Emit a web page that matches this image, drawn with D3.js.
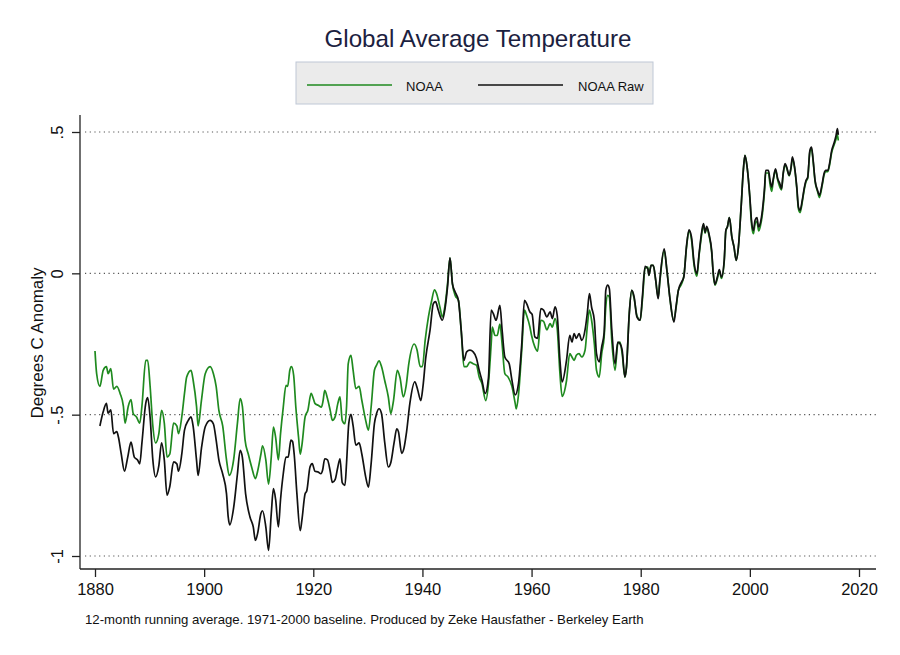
<!DOCTYPE html>
<html>
<head>
<meta charset="utf-8">
<script src="https://cdn.jsdelivr.net/npm/d3@7"></script>
<style>
  html, body { margin: 0; padding: 0; background: #fff; }
  svg { display: block; font-family: "Liberation Sans", Arial, Helvetica, sans-serif; }
</style>
</head>
<body>
<svg id="chart" width="900" height="655"></svg>
<script>
// ---------------- DATA ----------------
const title = "Global Average Temperature";
const yLabel = "Degrees C Anomaly";
const caption = "12-month running average. 1971-2000 baseline. Produced by Zeke Hausfather - Berkeley Earth";
const seriesNames = ["NOAA", "NOAA Raw"];
const xTicks = [1880, 1900, 1920, 1940, 1960, 1980, 2000, 2020];
const yTicks = [-1, -0.5, 0, 0.5];
const yTickLabels = ["-1", "-.5", "0", ".5"];

const noaaYears = [
  1880.0,1880.3,1880.9,1881.5,1882.1,1882.4,1882.9,1883.4,1884.0,1884.6,1885.2,1885.5,1886.1,1886.6,1887.0,1887.6,1888.2,1888.6,1889.3,1889.65,
  1890.1,1890.6,1891.1,1891.7,1892.2,1892.7,1893.2,1893.7,1894.4,1895.0,1895.3,1895.9,1896.4,1896.8,1897.6,1898.0,1898.6,1898.9,1899.5,
  1900.2,1901.1,1901.7,1902.2,1902.7,1903.4,1904.1,1904.6,1905.4,1906.1,1906.6,1907.0,1907.5,1908.1,1908.7,1909.4,1909.8,
  1910.4,1910.7,1911.3,1911.8,1912.3,1912.7,1913.1,1913.6,1914.0,1914.5,1915.0,1915.3,1915.7,1916.0,1916.4,1916.8,1917.3,1917.6,1917.9,1918.5,1919.0,1919.6,
  1920.0,1920.3,1920.9,1921.5,1921.8,1922.1,1922.6,1923.1,1923.5,1924.0,1924.5,1924.9,1925.3,1925.8,1926.1,1926.4,1926.9,1927.3,1927.8,1928.4,1928.9,1929.6,
  1930.1,1930.6,1931.2,1931.6,1932.05,1932.5,1933.1,1933.75,1934.2,1934.7,1935.4,1935.9,1936.5,1937.0,1937.5,1938.5,1939.0,1939.6,
  1940.0,1940.5,1941.1,1941.7,1942.2,1942.6,1943.2,1943.65,1944.1,1944.6,1945.05,1945.5,1946.0,1946.6,1947.1,1947.6,1948.1,1948.7,1949.3,1949.9,
  1950.4,1950.9,1951.6,1952.1,1952.6,1952.8,1953.3,1953.7,1954.2,1954.6,1955.1,1955.7,1956.4,1957.0,1957.2,1957.6,1958.2,1958.7,1959.1,1959.7,
  1960.0,1960.6,1961.1,1961.7,1962.2,1962.8,1963.4,1963.8,1964.3,1964.7,1965.2,1965.6,1966.4,1967.0,1967.4,1967.8,1968.2,1968.7,1969.2,1969.8,
  1970.2,1970.6,1971.0,1971.5,1971.9,1972.4,1972.85,1973.3,1973.6,1973.95,1974.25,1974.7,1975.3,1975.8,1976.2,1976.6,1977.1,1977.4,1977.9,1978.35,1978.8,1979.3,1979.9,
  1980.3,1980.8,1981.3,1981.5,1981.9,1982.3,1982.75,1983.2,1983.5,1984.3,1984.8,1985.4,1986.0,1986.5,1986.9,1987.5,1987.9,1988.4,1988.85,
  1989.3,1989.8,1990.3,1990.7,1991.05,1991.5,1991.8,1992.1,1992.5,1993.0,1993.3,1993.6,1994.05,1994.4,1994.8,1995.3,1995.6,1995.9,1996.25,1996.7,1997.1,1997.5,1997.9,
  1998.4,1998.8,1999.1,1999.5,2000.0,2000.3,2000.65,2000.95,2001.3,2001.6,2001.9,2002.3,2002.7,2002.9,2003.4,2003.7,2004.0,2004.3,2004.7,2005.1,2005.5,2005.8,
  2006.1,2006.45,2006.75,2007.2,2007.55,2007.8,2008.2,2008.6,2008.9,2009.2,2009.6,2010.0,2010.3,2010.6,2011.0,2011.3,2011.6,2011.95,2012.4,2012.75,
  2013.2,2013.6,2013.9,2014.3,2014.6,2015.0,2015.4,2015.8,2016.05,2016.2
];
const noaaValues = [
  -0.275,-0.355,-0.40,-0.343,-0.33,-0.355,-0.337,-0.41,-0.40,-0.425,-0.47,-0.53,-0.47,-0.447,-0.496,-0.508,-0.53,-0.47,-0.308,-0.308,
  -0.40,-0.54,-0.60,-0.567,-0.485,-0.53,-0.65,-0.64,-0.53,-0.54,-0.567,-0.508,-0.425,-0.367,-0.343,-0.38,-0.47,-0.54,-0.45,
  -0.355,-0.33,-0.355,-0.40,-0.485,-0.54,-0.66,-0.715,-0.66,-0.53,-0.443,-0.47,-0.59,-0.64,-0.685,-0.726,-0.70,
  -0.64,-0.61,-0.66,-0.746,-0.65,-0.544,-0.58,-0.66,-0.567,-0.473,-0.396,-0.40,-0.343,-0.33,-0.36,-0.473,-0.58,-0.64,-0.61,-0.508,-0.485,-0.425,
  -0.443,-0.46,-0.467,-0.473,-0.45,-0.414,-0.443,-0.485,-0.52,-0.508,-0.46,-0.437,-0.52,-0.532,-0.47,-0.32,-0.29,-0.343,-0.408,-0.40,-0.45,-0.52,
  -0.555,-0.473,-0.343,-0.325,-0.31,-0.33,-0.38,-0.4375,-0.496,-0.45,-0.343,-0.37,-0.4375,-0.40,-0.32,-0.25,-0.27,-0.33,
  -0.33,-0.237,-0.154,-0.096,-0.058,-0.072,-0.119,-0.154,-0.119,-0.037,0.055,-0.037,-0.078,-0.096,-0.20,-0.33,-0.33,-0.314,-0.32,-0.325,
  -0.367,-0.39,-0.45,-0.39,-0.25,-0.19,-0.22,-0.22,-0.18,-0.25,-0.355,-0.367,-0.40,-0.46,-0.48,-0.43,-0.272,-0.13,-0.149,-0.19,
  -0.22,-0.26,-0.275,-0.166,-0.17,-0.20,-0.178,-0.19,-0.16,-0.196,-0.355,-0.435,-0.38,-0.284,-0.296,-0.308,-0.29,-0.284,-0.296,-0.272,
  -0.19,-0.13,-0.166,-0.249,-0.343,-0.367,-0.284,-0.225,-0.119,-0.078,-0.084,-0.237,-0.343,-0.249,-0.243,-0.284,-0.367,-0.33,-0.143,-0.06,-0.09,-0.149,-0.166,
  -0.096,0.017,0.022,-0.007,0.028,0.028,-0.025,-0.086,-0.03,0.081,0.01,-0.096,-0.166,-0.119,-0.06,-0.037,-0.01,0.093,0.150,
  0.12,0.025,-0.01,0.065,0.12,0.172,0.142,0.162,0.135,0.075,-0.005,-0.042,-0.018,0.008,-0.018,0.042,0.15,0.166,0.197,0.129,0.093,0.046,0.093,
  0.235,0.364,0.417,0.376,0.265,0.175,0.14,0.175,0.185,0.15,0.165,0.21,0.295,0.355,0.355,0.315,0.29,0.33,0.365,0.33,0.305,0.295,
  0.35,0.385,0.372,0.345,0.372,0.405,0.372,0.30,0.228,0.215,0.252,0.30,0.325,0.336,0.43,0.44,0.395,0.325,0.29,0.268,
  0.305,0.348,0.36,0.36,0.382,0.428,0.452,0.475,0.49,0.47
];

const rawYears = [
  1880.9,1881.5,1882.1,1882.4,1882.9,1883.4,1884.0,1884.3,1884.8,1885.4,1886.0,1886.6,1887.2,1887.8,1888.2,1888.6,1889.3,1889.65,
  1890.1,1890.6,1891.1,1891.7,1892.2,1892.7,1893.2,1893.7,1894.4,1895.0,1895.3,1895.9,1896.4,1897.1,1897.6,1898.0,1898.6,1898.9,1899.5,
  1900.2,1901.1,1901.7,1902.2,1902.7,1903.4,1904.1,1904.4,1904.7,1905.4,1906.1,1906.6,1907.0,1907.6,1908.4,1909.0,1909.4,1909.8,
  1910.4,1910.7,1911.3,1911.8,1912.3,1912.7,1913.1,1913.6,1914.0,1914.5,1915.0,1915.4,1915.9,1916.2,1916.5,1917.0,1917.6,1917.9,1918.5,1918.8,1919.4,1919.8,
  1920.3,1920.9,1921.4,1921.7,1922.1,1922.6,1923.1,1923.5,1924.0,1924.5,1924.9,1925.3,1925.8,1926.1,1926.5,1926.9,1927.3,1927.8,1928.4,1928.9,1929.6,
  1930.1,1930.6,1931.2,1931.6,1932.05,1932.5,1933.1,1933.75,1934.2,1934.8,1935.3,1935.6,1936.2,1936.6,1937.1,1937.7,1938.6,1939.1,1939.7,
  1940.1,1940.6,1941.4,1942.0,1942.4,1942.9,1943.65,1944.1,1944.6,1945.05,1945.5,1946.0,1946.6,1947.1,1947.6,1948.1,1948.7,1949.3,1949.9,
  1950.4,1950.9,1951.5,1952.1,1952.6,1953.0,1953.5,1954.2,1954.6,1955.1,1955.9,1956.4,1957.0,1957.6,1958.2,1958.7,1959.1,1959.7,
  1960.1,1960.6,1961.1,1961.7,1962.2,1962.8,1963.4,1963.8,1964.3,1964.7,1965.2,1965.6,1966.4,1967.0,1967.4,1967.8,1968.2,1968.7,1969.2,1969.8,
  1970.2,1970.6,1971.0,1971.5,1971.9,1972.4,1972.85,1973.3,1973.6,1973.95,1974.25,1974.7,1975.3,1975.8,1976.2,1976.6,1977.1,1977.4,1977.9,1978.35,1978.8,1979.3,1979.9,
  1980.3,1980.8,1981.3,1981.5,1981.9,1982.3,1982.75,1983.2,1983.5,1984.3,1984.8,1985.4,1986.1,1986.5,1986.9,1987.5,1987.9,1988.4,1988.85,
  1989.3,1989.8,1990.3,1990.7,1991.05,1991.5,1991.8,1992.1,1992.5,1993.0,1993.3,1993.6,1994.05,1994.4,1994.8,1995.3,1995.6,1995.9,1996.25,1996.7,1997.1,1997.5,1997.9,
  1998.4,1998.8,1999.1,1999.5,2000.0,2000.3,2000.65,2000.95,2001.3,2001.6,2001.9,2002.3,2002.7,2002.9,2003.4,2003.7,2004.0,2004.3,2004.7,2005.1,2005.5,2005.8,
  2006.1,2006.45,2006.75,2007.2,2007.55,2007.8,2008.2,2008.6,2008.9,2009.2,2009.6,2010.0,2010.3,2010.6,2011.0,2011.3,2011.6,2011.95,2012.4,2012.75,
  2013.2,2013.6,2013.9,2014.3,2014.6,2015.0,2015.4,2015.8,2016.05,2016.2
];
const rawValues = [
  -0.54,-0.49,-0.46,-0.495,-0.483,-0.567,-0.56,-0.58,-0.638,-0.70,-0.65,-0.597,-0.65,-0.66,-0.674,-0.60,-0.46,-0.44,
  -0.51,-0.66,-0.72,-0.68,-0.60,-0.66,-0.785,-0.755,-0.667,-0.674,-0.70,-0.64,-0.555,-0.52,-0.508,-0.543,-0.66,-0.715,-0.62,
  -0.543,-0.52,-0.533,-0.59,-0.66,-0.71,-0.78,-0.86,-0.89,-0.83,-0.71,-0.626,-0.65,-0.78,-0.862,-0.897,-0.945,-0.92,
  -0.85,-0.84,-0.897,-0.98,-0.85,-0.762,-0.80,-0.897,-0.80,-0.709,-0.65,-0.65,-0.59,-0.595,-0.64,-0.78,-0.91,-0.875,-0.78,-0.77,-0.685,-0.673,
  -0.70,-0.703,-0.709,-0.697,-0.656,-0.66,-0.70,-0.74,-0.73,-0.685,-0.656,-0.74,-0.75,-0.67,-0.532,-0.499,-0.54,-0.608,-0.60,-0.64,-0.72,
  -0.756,-0.673,-0.532,-0.496,-0.479,-0.496,-0.60,-0.685,-0.67,-0.60,-0.55,-0.56,-0.637,-0.62,-0.56,-0.46,-0.384,-0.41,-0.45,
  -0.40,-0.30,-0.20,-0.107,-0.10,-0.13,-0.166,-0.13,-0.048,0.055,-0.037,-0.066,-0.096,-0.20,-0.308,-0.278,-0.272,-0.278,-0.30,
  -0.343,-0.378,-0.425,-0.37,-0.13,-0.143,-0.166,-0.113,-0.20,-0.296,-0.32,-0.378,-0.43,-0.39,-0.25,-0.096,-0.107,-0.137,
  -0.145,-0.225,-0.23,-0.125,-0.13,-0.154,-0.136,-0.16,-0.119,-0.149,-0.308,-0.384,-0.308,-0.219,-0.243,-0.213,-0.23,-0.213,-0.237,-0.20,
  -0.143,-0.072,-0.12,-0.166,-0.284,-0.313,-0.26,-0.21,-0.06,-0.042,-0.054,-0.20,-0.32,-0.243,-0.249,-0.272,-0.367,-0.33,-0.143,-0.06,-0.084,-0.154,-0.166,
  -0.084,0.025,0.016,-0.007,0.028,0.028,-0.025,-0.09,-0.025,0.087,0.01,-0.096,-0.172,-0.113,-0.06,-0.03,-0.013,0.099,0.154,
  0.129,0.034,-0.001,0.07,0.129,0.176,0.145,0.166,0.14,0.081,0.0,-0.039,-0.013,0.013,-0.013,0.046,0.152,0.166,0.197,0.129,0.093,0.046,0.093,
  0.235,0.364,0.417,0.376,0.27,0.1875,0.152,0.1875,0.197,0.164,0.176,0.223,0.305,0.364,0.364,0.329,0.305,0.335,0.37,0.335,0.317,0.30,
  0.353,0.388,0.376,0.347,0.376,0.412,0.376,0.305,0.235,0.223,0.258,0.305,0.329,0.34,0.435,0.447,0.40,0.329,0.294,0.276,
  0.311,0.353,0.364,0.364,0.388,0.435,0.459,0.488,0.512,0.49
];

// ---------------- CHART ----------------
const svg = d3.select("#chart");
const font = "'Liberation Sans', Arial, Helvetica, sans-serif";
const green = "#1f8a1f", black = "#111111";

const x = d3.scaleLinear().domain([1880, 2020]).range([95, 859]);
const y = d3.scaleLinear().domain([-1, 0.5]).range([556, 132]);

const axisX0 = 80, axisX1 = 876, axisY = 569, axisTop = 115;

// title
svg.append("text").attr("x", 478).attr("y", 47).attr("text-anchor", "middle")
  .attr("font-size", 24.2).attr("fill", "#1b2140").text(title);

// legend
const lg = svg.append("g");
lg.append("rect").attr("x", 296).attr("y", 62).attr("width", 357).attr("height", 42)
  .attr("fill", "#ebebeb").attr("stroke", "#bfc8d6").attr("stroke-width", 1);
lg.append("line").attr("x1", 307).attr("x2", 392).attr("y1", 85).attr("y2", 85)
  .attr("stroke", green).attr("stroke-width", 1.4);
lg.append("text").attr("x", 406).attr("y", 90.5).attr("font-size", 13).attr("fill", "#111").text(seriesNames[0]);
lg.append("line").attr("x1", 478).attr("x2", 563).attr("y1", 85).attr("y2", 85)
  .attr("stroke", black).attr("stroke-width", 1.4);
lg.append("text").attr("x", 578).attr("y", 90.5).attr("font-size", 13).attr("fill", "#111").text(seriesNames[1]);

// gridlines
svg.append("g").selectAll("line").data(yTicks).join("line")
  .attr("x1", 85).attr("x2", axisX1).attr("y1", d => y(d)).attr("y2", d => y(d))
  .attr("stroke", "#555").attr("stroke-width", 1.1).attr("stroke-dasharray", "1.2,3.5");

// axes
const yAxis = d3.axisLeft(y).tickValues(yTicks).tickSize(8).tickFormat((d, i) => yTickLabels[i]);
const gy = svg.append("g").attr("transform", `translate(${axisX0},0)`).call(yAxis);
gy.select(".domain").remove();
gy.append("line").attr("x1", 0).attr("x2", 0).attr("y1", axisTop).attr("y2", axisY)
  .attr("stroke", "#222").attr("stroke-width", 1.3);
gy.selectAll(".tick line").attr("stroke", "#222").attr("stroke-width", 1.3);
gy.selectAll(".tick text")
  .attr("font-family", font).attr("font-size", 16.5).attr("fill", "#111")
  .attr("text-anchor", "middle").attr("dy", 0).attr("x", 0).attr("y", 0)
  .attr("transform", "translate(-17,0) rotate(-90)");

const xAxis = d3.axisBottom(x).tickValues(xTicks).tickSize(8).tickFormat(d3.format("d"));
const gx = svg.append("g").attr("transform", `translate(0,${axisY})`).call(xAxis);
gx.select(".domain").remove();
gx.append("line").attr("x1", axisX0).attr("x2", axisX1).attr("y1", 0).attr("y2", 0)
  .attr("stroke", "#222").attr("stroke-width", 1.3);
gx.selectAll(".tick line").attr("stroke", "#222").attr("stroke-width", 1.3);
gx.selectAll(".tick text").attr("font-family", font).attr("font-size", 16.5).attr("fill", "#111")
  .attr("dy", 0).attr("y", 26);

// y label
svg.append("text").attr("transform", "translate(43,343) rotate(-90)").attr("text-anchor", "middle")
  .attr("font-size", 17).attr("fill", "#111").text(yLabel);

// caption
svg.append("text").attr("x", 85).attr("y", 624).attr("font-size", 13.2).attr("fill", "#111").text(caption);

// lines
const line = d3.line().x(d => x(d[0])).y(d => y(d[1])).curve(d3.curveMonotoneX);
const noaa = noaaYears.map((yr, i) => [yr, noaaValues[i]]);
const raw = rawYears.map((yr, i) => [yr, rawValues[i]]);
svg.append("path").datum(noaa).attr("d", line).attr("fill", "none")
  .attr("stroke", green).attr("stroke-width", 1.7).attr("stroke-linejoin", "round");
svg.append("path").datum(raw).attr("d", line).attr("fill", "none")
  .attr("stroke", black).attr("stroke-width", 1.7).attr("stroke-linejoin", "round");
</script>
</body>
</html>
